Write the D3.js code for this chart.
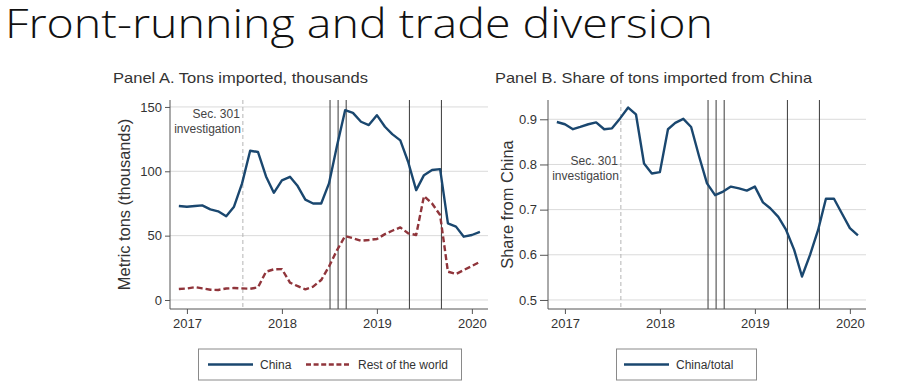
<!DOCTYPE html>
<html>
<head>
<meta charset="utf-8">
<script src="https://cdn.jsdelivr.net/npm/d3@7"></script>
<style>
  body { margin: 0; background: #fff; }
  svg { display: block; }
  text { font-family: "Liberation Sans", Arial, sans-serif; fill: #333; }
</style>
</head>
<body>
<svg id="chart" width="904" height="392"></svg>
<script>
// Data, monthly, Dec 2016 .. Feb 2020
const months = d3.timeMonth.range(new Date(2016, 11, 1), new Date(2020, 2, 1));
const chinaTons = [73, 72.5, 73, 73.5, 70.4, 68.9, 65, 72.5, 90.6, 116, 115, 96, 83.3, 93, 95.7, 89, 78, 75, 75,
  90.6, 120, 147.5, 145.4, 138.5, 135.9, 143.6, 134.6, 128.9, 124, 107.4, 85.4, 97, 101, 101.7, 59.5, 57, 49.2, 50.5, 53];
const restTons = [8.5, 8.9, 10, 9, 8, 7.8, 8.9, 9.3, 9, 8.7, 9.8, 22, 23.8, 24, 13.5, 10.9, 8.3, 10.4, 15.5,
  26, 38.8, 49.7, 48, 46, 46.6, 47.4, 51.2, 53.8, 56.4, 51.8, 50.5, 80.8, 75, 66, 22, 20.2, 23.3, 26.4, 29.7];
const chinaShare = [0.894, 0.889, 0.878, 0.883, 0.889, 0.893, 0.878, 0.880, 0.902, 0.926, 0.911, 0.802, 0.780, 0.783,
  0.878, 0.892, 0.901, 0.883, 0.817, 0.758, 0.732, 0.740, 0.751, 0.747, 0.742, 0.751, 0.716, 0.703, 0.684, 0.655,
  0.611, 0.552, 0.600, 0.655, 0.724, 0.724, 0.692, 0.659, 0.643];

const parse = d3.timeParse("%Y-%m-%d");
const tariffDates = ["2018-07-05", "2018-08-05", "2018-09-05", "2019-05-06", "2019-09-06"].map(parse);
const investigationDate = parse("2017-08-04");
const yearTicks = [2017, 2018, 2019, 2020].map(y => new Date(y, 0, 1));
const tonsTicks = [0, 50, 100, 150];
const shareTicks = [0.5, 0.6, 0.7, 0.8, 0.9];

const navy = "#1a476f", maroon = "#90353b";
const plotTop = 100, plotBottom = 309;

const svg = d3.select("#chart");

// Slide title
svg.append("text")
  .attr("x", 5).attr("y", 38)
  .attr("textLength", 708).attr("lengthAdjust", "spacingAndGlyphs")
  .style("font-family", "'Open Sans', sans-serif")
  .style("font-weight", 300)
  .style("font-size", "41px")
  .style("fill", "#111")
  .text("Front-running and trade diversion");

function panel(opts) {
  const x = d3.scaleTime()
    .domain([parse("2016-10-28"), parse("2020-03-03")])
    .range([opts.left, opts.right]);
  const y = d3.scaleLinear().domain(opts.yDomain).range([plotBottom, plotTop]);
  const g = svg.append("g");

  // title
  g.append("text")
    .attr("x", opts.titleX).attr("y", 83)
    .attr("textLength", opts.titleW).attr("lengthAdjust", "spacingAndGlyphs")
    .style("font-size", "15px")
    .text(opts.title);

  // gridlines
  g.append("g").selectAll("line")
    .data(opts.yTicks)
    .join("line")
    .attr("x1", opts.left).attr("x2", opts.right)
    .attr("y1", d => y(d)).attr("y2", d => y(d))
    .attr("stroke", "#dadada").attr("stroke-width", 1);

  // investigation line and note
  g.append("line")
    .attr("x1", x(investigationDate)).attr("x2", x(investigationDate))
    .attr("y1", plotTop).attr("y2", plotBottom)
    .attr("stroke", "#b5b5b5").attr("stroke-width", 1)
    .attr("stroke-dasharray", "4,3");
  const note = g.append("text")
    .attr("text-anchor", "end")
    .style("font-size", "12px")
    .style("fill", "#444");
  note.append("tspan").attr("x", x(investigationDate) - 3).attr("y", opts.noteY).text("Sec. 301");
  note.append("tspan").attr("x", x(investigationDate) - 2).attr("y", opts.noteY + 15).text("investigation");

  // tariff event lines
  g.append("g").selectAll("line")
    .data(tariffDates)
    .join("line")
    .attr("x1", d => x(d)).attr("x2", d => x(d))
    .attr("y1", plotTop).attr("y2", plotBottom)
    .attr("stroke", "#3a3a3a").attr("stroke-width", 1);

  // series
  opts.series.forEach(s => {
    const line = d3.line()
      .x((d, i) => x(months[i]))
      .y(d => y(d));
    g.append("path")
      .datum(s.values)
      .attr("fill", "none")
      .attr("stroke", s.color)
      .attr("stroke-width", 2.4)
      .attr("stroke-linejoin", "round")
      .attr("stroke-dasharray", s.dash || null)
      .attr("d", line);
  });

  // axes
  const yAxis = g.append("g")
    .attr("transform", `translate(${opts.left},0)`)
    .call(d3.axisLeft(y).tickValues(opts.yTicks).tickFormat(opts.yFormat)
      .tickSizeOuter(0).tickSize(opts.tickLen).tickPadding(3));
  const xAxis = g.append("g")
    .attr("transform", `translate(0,${plotBottom})`)
    .call(d3.axisBottom(x).tickValues(yearTicks).tickFormat(d3.timeFormat("%Y"))
      .tickSizeOuter(0).tickSize(5).tickPadding(5));
  [xAxis, yAxis].forEach(a => {
    a.select(".domain").attr("stroke", "#555");
    a.selectAll(".tick line").attr("stroke", "#555");
    a.selectAll(".tick text")
      .style("font-family", "'Liberation Sans', Arial, sans-serif")
      .style("font-size", "13px").style("fill", "#333");
  });
  xAxis.select(".domain").attr("d", `M${opts.left},0H${opts.right}`);
  yAxis.select(".domain").attr("d", `M0,${plotBottom}V${plotTop}`);

  // y title
  g.append("text")
    .attr("transform", `translate(${opts.yTitleX},${(plotTop + plotBottom) / 2}) rotate(-90)`)
    .attr("text-anchor", "middle")
    .style("font-size", "16.4px")
    .text(opts.yTitle);

  // legend
  const lg = g.append("g");
  lg.append("rect")
    .attr("x", opts.legend.x).attr("y", 349)
    .attr("width", opts.legend.w).attr("height", 31)
    .attr("fill", "#fff").attr("stroke", "#8a8a8a").attr("stroke-width", 1);
  opts.series.forEach((s, i) => {
    const lx = opts.legend.items[i];
    lg.append("line")
      .attr("x1", lx).attr("x2", lx + 45)
      .attr("y1", 364.5).attr("y2", 364.5)
      .attr("stroke", s.color).attr("stroke-width", 2.4)
      .attr("stroke-dasharray", s.dash ? "5,2.6" : null);
    lg.append("text")
      .attr("x", lx + 52).attr("y", 369)
      .style("font-size", "12px")
      .text(s.name);
  });
}

panel({
  left: 170, right: 488,
  yDomain: [-7, 155.4],
  yTicks: tonsTicks,
  yFormat: d3.format("d"),
  tickLen: 5,
  title: "Panel A. Tons imported, thousands",
  titleX: 113, titleW: 255,
  yTitle: "Metric tons (thousands)",
  yTitleX: 130,
  noteY: 118,
  series: [
    { name: "China", values: chinaTons, color: navy },
    { name: "Rest of the world", values: restTons, color: maroon, dash: "6,3" }
  ],
  legend: { x: 198.5, w: 263, items: [208, 306] }
});

panel({
  left: 548, right: 866,
  yDomain: [0.48, 0.9427],
  yTicks: shareTicks,
  yFormat: d3.format(".1f"),
  tickLen: 8,
  title: "Panel B. Share of tons imported from China",
  titleX: 495, titleW: 317,
  yTitle: "Share from China",
  yTitleX: 513,
  noteY: 165,
  series: [
    { name: "China/total", values: chinaShare, color: navy }
  ],
  legend: { x: 616.5, w: 140, items: [624] }
});
</script>
</body>
</html>
